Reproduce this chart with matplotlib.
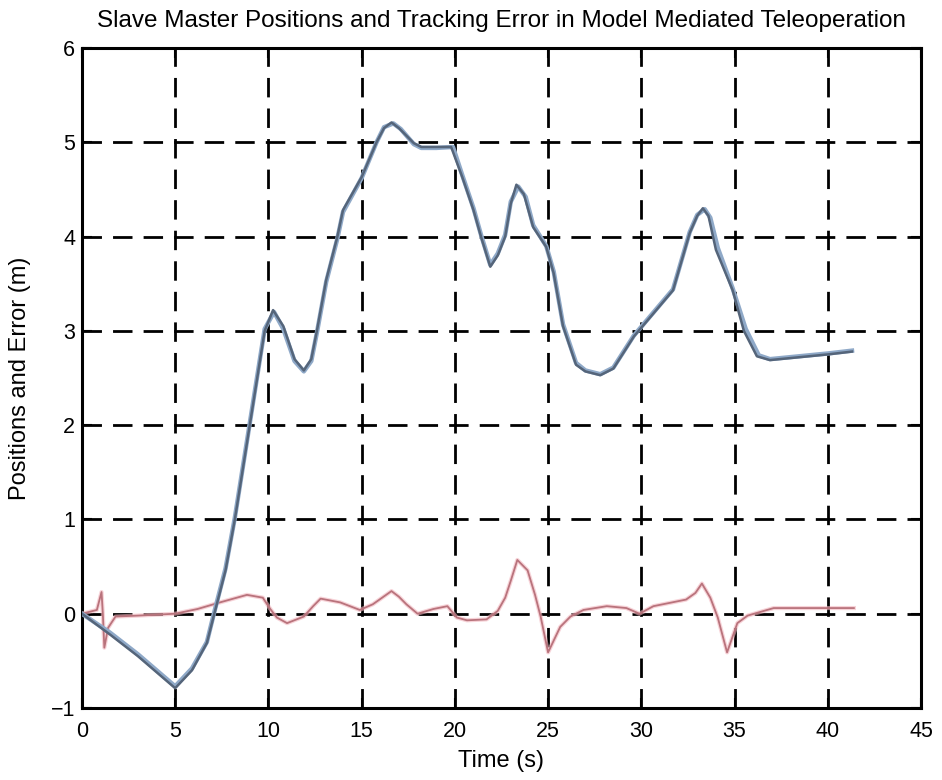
import matplotlib

matplotlib.use("Agg")
import matplotlib.pyplot as plt

# slave position (m) over time (s)
t_slave = [0, 1.5, 3, 5, 5.9, 6.7, 7.1, 7.7, 8.2, 9.0, 9.8, 10.25, 10.8, 11.4,
           11.9, 12.3, 12.6, 13.1, 13.7, 14.0, 15.0, 15.8, 16.2, 16.6, 17.0,
           17.8, 18.2, 19.0, 19.8, 20.4, 21.0, 21.4, 21.9, 22.3, 22.7, 23.0,
           23.3, 23.7, 24.2, 24.9, 25.3, 25.8, 26.5, 27.0, 27.8, 28.5, 29.6,
           30.5, 31.7, 32.6, 33.0, 33.3, 33.6, 34.0, 34.9, 35.5, 36.2, 36.9,
           40.0, 41.3]
slave = [0, -0.22, -0.45, -0.79, -0.6, -0.31, 0, 0.46, 1.0, 2.0, 3.0, 3.22,
         3.05, 2.7, 2.58, 2.7, 3.0, 3.54, 4.0, 4.28, 4.63, 5.0, 5.15, 5.21,
         5.15, 4.99, 4.95, 4.95, 4.95, 4.63, 4.28, 4.0, 3.68, 3.8, 4.0, 4.35,
         4.55, 4.45, 4.1, 3.89, 3.61, 3.05, 2.64, 2.57, 2.53, 2.6, 2.94, 3.15,
         3.43, 4.04, 4.22, 4.30, 4.22, 3.86, 3.43, 3.0, 2.73, 2.69, 2.75, 2.78]

# master position (m), nearly on top of the slave
t_master = [0, 1.5, 3, 5, 5.9, 6.7, 7.1, 7.7, 8.2, 9.0, 9.8, 10.3, 10.8, 11.4,
            11.9, 12.3, 12.6, 13.1, 13.7, 14.0, 15.0, 15.8, 16.2, 16.7, 17.1,
            17.8, 18.2, 19.0, 19.9, 20.4, 21.0, 21.4, 21.9, 22.3, 22.7, 23.0,
            23.4, 23.8, 24.2, 24.9, 25.3, 25.8, 26.5, 27.0, 27.8, 28.5, 29.6,
            30.5, 31.7, 32.6, 33.0, 33.4, 33.7, 34.1, 34.9, 35.6, 36.3, 36.9,
            40.0, 41.3]
master = [0, -0.2, -0.43, -0.77, -0.58, -0.3, 0.02, 0.48, 1.02, 2.02, 3.02,
          3.2, 3.02, 2.68, 2.57, 2.68, 2.98, 3.52, 3.98, 4.26, 4.62, 5.0, 5.16,
          5.2, 5.14, 4.98, 4.94, 4.94, 4.95, 4.65, 4.3, 4.02, 3.7, 3.82, 4.02,
          4.37, 4.53, 4.42, 4.12, 3.9, 3.63, 3.07, 2.66, 2.58, 2.54, 2.61, 2.95,
          3.16, 3.44, 4.05, 4.23, 4.29, 4.2, 3.88, 3.45, 3.02, 2.74, 2.7, 2.76,
          2.79]

# tracking error (m)
t_err = [0, 0.8, 1.05, 1.12, 1.2, 1.4, 1.8, 3, 5, 6.2, 7.4, 8.85, 9.7, 10.1,
         10.45, 11, 11.9, 12.4, 12.8, 13.85, 14.9, 15.6, 16.1, 16.6, 17.0, 17.4,
         18, 18.85, 19.6, 20.1, 20.65, 21.7, 22.3, 22.7, 23.0, 23.35, 23.9, 24.3,
         24.6, 25.0, 25.65, 26.2, 26.9, 28.15, 29.2, 29.9, 30.65, 32.4, 32.9,
         33.25, 33.7, 34.1, 34.6, 35.15, 35.7, 36.4, 37.1, 40.7, 41.4]
err = [0, 0.04, 0.23, 0.0, -0.36, -0.15, -0.03, -0.02, 0.0, 0.05, 0.12, 0.2,
       0.17, 0.05, -0.04, -0.1, -0.03, 0.08, 0.16, 0.12, 0.04, 0.1, 0.17, 0.24,
       0.18, 0.1, 0.0, 0.05, 0.08, -0.04, -0.07, -0.06, 0.03, 0.17, 0.35, 0.57,
       0.46, 0.2, -0.03, -0.41, -0.14, -0.03, 0.04, 0.08, 0.06, 0.0, 0.08, 0.15,
       0.22, 0.32, 0.17, -0.04, -0.41, -0.1, -0.02, 0.02, 0.06, 0.06, 0.06]

x_ticks = list(range(0, 46, 5))
y_ticks = list(range(-1, 7))

plt.rcParams["font.family"] = ["Liberation Sans", "DejaVu Sans"]

fig = plt.figure(figsize=(9.42, 7.8), dpi=100)
ax = fig.add_axes([0.087, 0.0923, 0.8907, 0.8462])

ax.plot(t_err, err, color="#f2b6be", linewidth=3.0, alpha=0.6, zorder=3)
ax.plot(t_err, err, color="#b9737c", linewidth=1.3, zorder=4)
ax.plot(t_master, master, color="#8fa9c8", linewidth=3.2, zorder=5)
ax.plot(t_slave, slave, color="#55657a", linewidth=1.8, zorder=6)

ax.set_xlim(0, 45)
ax.set_ylim(-1, 6)
ax.set_xticks(x_ticks)
ax.set_yticks(y_ticks)
ax.grid(True, color="black", linestyle=(0, (7, 4)), linewidth=2.0)
ax.set_axisbelow(True)
ax.tick_params(direction="in", length=7, width=1.5, labelsize=15.5,
               top=True, right=True, pad=5)
ax.tick_params(axis="x", pad=9)
for side in ax.spines.values():
    side.set_linewidth(2.2)

ax.set_title("Slave Master Positions and Tracking Error in Model Mediated Teleoperation",
             fontsize=17.5, pad=15)
ax.set_xlabel("Time (s)", fontsize=17, labelpad=6)
ax.set_ylabel("Positions and Error (m)", fontsize=17, labelpad=14)

fig.savefig("out.png", dpi=100)
